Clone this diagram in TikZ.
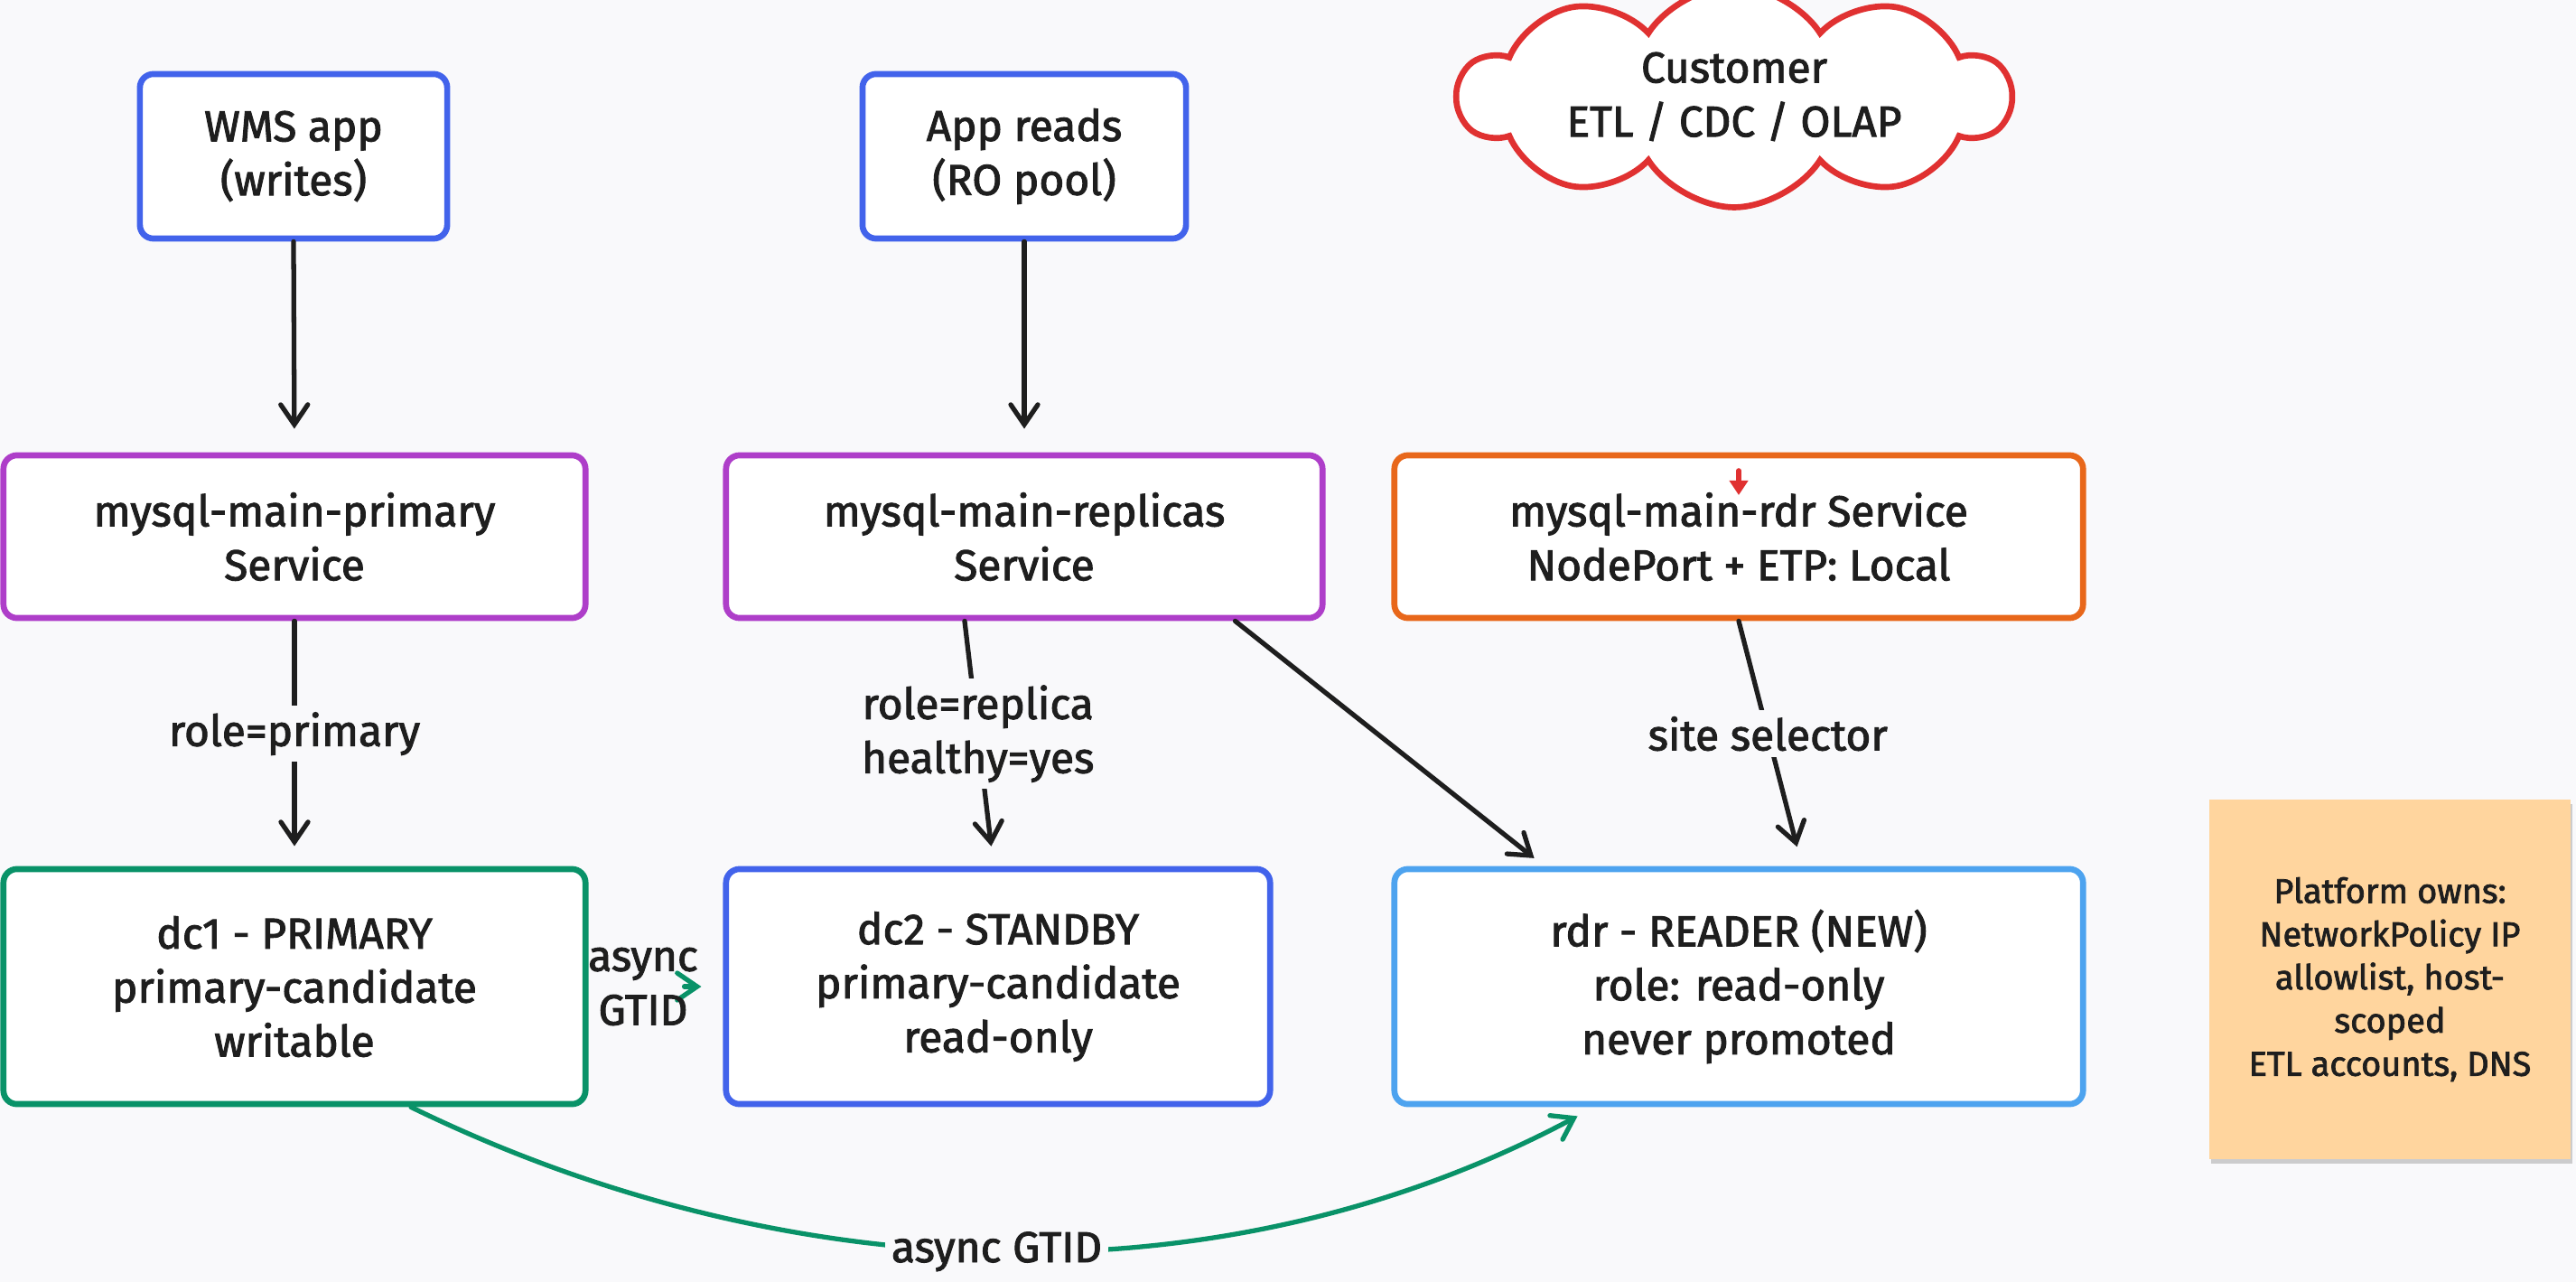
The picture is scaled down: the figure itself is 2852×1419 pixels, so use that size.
\documentclass[tikz,border=0pt]{standalone}
\usepackage{fontspec}
\setmainfont{Fira Sans}[FakeBold=2]
\usetikzlibrary{arrows.meta,shapes.symbols,shadows,calc}
\definecolor{bg}{HTML}{F9F9FB}
\definecolor{ink}{HTML}{1E1E1E}
\definecolor{cblue}{HTML}{4263EB}
\definecolor{cpurple}{HTML}{AE3EC9}
\definecolor{corange}{HTML}{E8671A}
\definecolor{cgreen}{HTML}{099268}
\definecolor{clight}{HTML}{4DA3EF}
\definecolor{cred}{HTML}{E03131}
\definecolor{cnote}{HTML}{FFD59E}
\tikzset{
  box/.style={draw, rounded corners=0.15cm, line width=1.9pt, fill=white, align=center, inner sep=0pt, text=ink},
  arr/.style={draw=ink, line width=1.5pt, -{Straight Barb[length=2.2mm,width=3mm,line cap=round]}, line cap=round},
  garr/.style={draw=cgreen, line width=1.5pt, -{Straight Barb[length=2.2mm,width=3mm,line cap=round]}, line cap=round},
  lbl/.style={fill=bg, inner sep=2pt, align=center, text=ink},
  notefont/.style={font=\fontsize{10.8pt}{13.6pt}\selectfont}
}
\begin{document}
\begin{tikzpicture}[x=0.01cm,y=-0.01cm,font=\fontsize{13.6pt}{17pt}\selectfont]
\fill[bg] (0,0) rectangle (2852,1419);
\useasboundingbox (0,0) rectangle (2852,1419);

% top row
\node[box, draw=cblue, minimum width=3.40cm, minimum height=1.82cm] (wms) at (325,173) {WMS app\\(writes)};
\node[box, draw=cblue, minimum width=3.58cm, minimum height=1.82cm] (reads) at (1134,173) {App reads\\(RO pool)};
\node[cloud, draw=cred, line width=1.9pt, fill=white, cloud puffs=10, cloud puff arc=115, aspect=3.2,
      minimum width=6.1cm, minimum height=1.82cm, inner sep=0pt, align=center, text=ink] (cust) at (1920,107) {Customer\\ETL / CDC / OLAP};

% services
\node[box, draw=cpurple, minimum width=6.44cm, minimum height=1.80cm] (psvc) at (326,594) {mysql-main-primary\\Service};
\node[box, draw=cpurple, minimum width=6.60cm, minimum height=1.80cm] (rsvc) at (1134,594) {mysql-main-replicas\\Service};
\node[box, draw=corange, minimum width=7.62cm, minimum height=1.80cm] (dsvc) at (1925,594) {mysql-main-rdr Service\\NodePort + ETP: Local};

% databases
\node[box, draw=cgreen, minimum width=6.44cm, minimum height=2.60cm] (dc1) at (326,1092) {dc1 - PRIMARY\\primary-candidate\\writable};
\node[box, draw=cblue, minimum width=6.02cm, minimum height=2.60cm] (dc2) at (1105,1092) {dc2 - STANDBY\\primary-candidate\\read-only};
\node[box, draw=clight, minimum width=7.62cm, minimum height=2.60cm] (rdr) at (1925,1092) {rdr - READER (NEW)\\role: read-only\\never promoted};

% sticky note
\node[fill=cnote, minimum width=4.00cm, minimum height=3.98cm, inner sep=0pt, align=center, text=ink, notefont,
      drop shadow={shadow xshift=0.02cm, shadow yshift=-0.05cm, opacity=0.18, fill=black}] (note) at (2646,1084)
  {Platform owns:\\NetworkPolicy IP\\allowlist, host-\\scoped\\ETL accounts, DNS};

% stray red arrow
\coordinate (ra) at (1925,521);
\coordinate (rb) at (1925,548);
\draw[draw=cred, line width=1.6pt, line cap=round, -{Triangle[length=1.6mm,width=2mm]}] (ra) -- (rb);

% arrows
\draw[arr, shorten >=0.26cm] (wms.south) -- (psvc.north);
\draw[arr, shorten >=0.26cm] (reads.south) -- (rsvc.north);
\draw[arr, shorten >=0.22cm] (psvc.south) -- node[lbl, pos=0.46] {role=primary} (dc1.north);
\draw[arr, shorten >=0.22cm] ([xshift=-0.66cm]rsvc.south) -- node[lbl, pos=0.46] {role=replica\\healthy=yes} ([xshift=-0.05cm]dc2.north);
\draw[arr, shorten >=0.14cm] ([xshift=-1.0cm]rsvc.south east) -- ([xshift=1.69cm]rdr.north west);
\draw[arr, shorten >=0.22cm] (dsvc.south) -- node[lbl, pos=0.46] {site selector} ([xshift=0.7cm]rdr.north);

\draw[garr, shorten <=1.06cm, shorten >=0.24cm] (dc1.east) -- node[align=center, text=ink, inner sep=0pt, xshift=-0.14cm] {async\\GTID} (dc2.west);
\draw[garr] ([xshift=1.29cm]dc1.south) to[out=-26, in=-152, looseness=0.9] node[lbl, pos=0.5] {async GTID} ([xshift=2.06cm, yshift=-0.1cm]rdr.south west);
\end{tikzpicture}
\end{document}
